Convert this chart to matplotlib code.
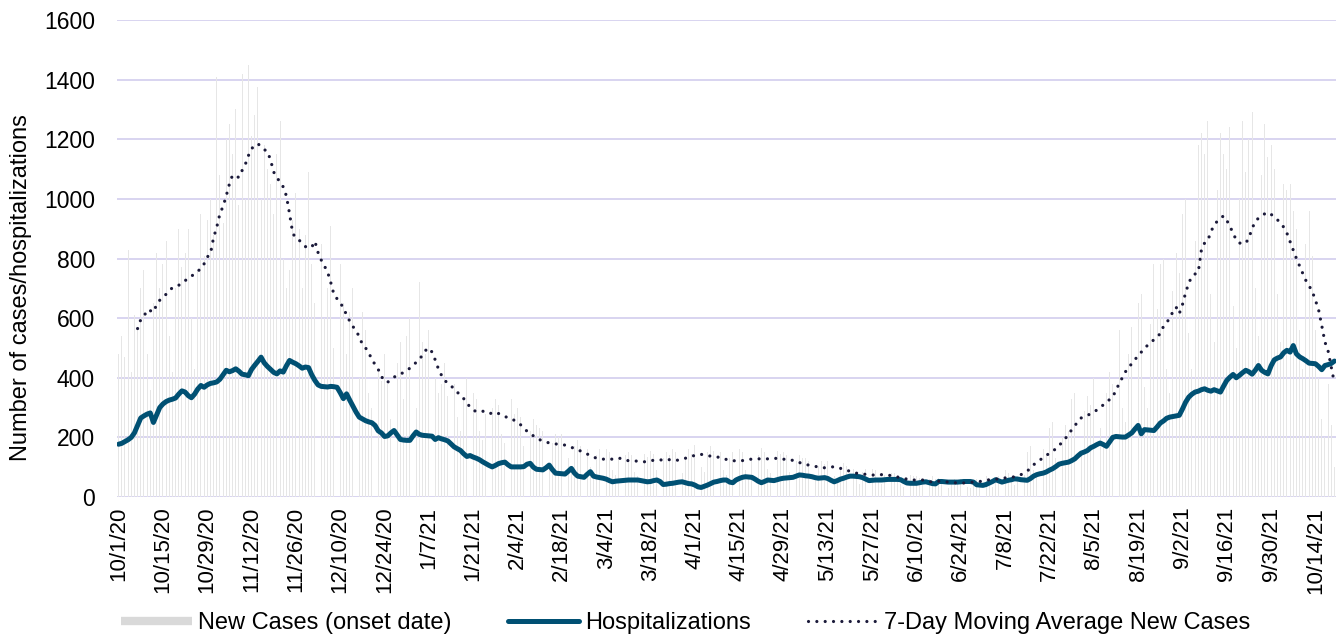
import numpy as np
import matplotlib.pyplot as plt
from matplotlib.lines import Line2D

plt.rcParams['font.family'] = ['Liberation Sans', 'DejaVu Sans']

# Daily values, 10/1/20 .. 10/20/21 (385 days)
new_cases = [
    480, 540, 470, 830, 420, 610, 560,
    700, 760, 480, 360, 650, 820, 700,
    780, 860, 540, 420, 700, 900, 770,
    820, 900, 600, 430, 760, 950, 810,
    930, 1000, 880, 1410, 1080, 920, 1200,
    1250, 1150, 1300, 980, 1420, 1000, 1450,
    1210, 1280, 1375, 1000, 1180, 1100, 1050,
    950, 1150, 1260, 800, 700, 760, 930,
    1020, 900, 700, 880, 1090, 780, 650,
    900, 850, 600, 700, 910, 500, 560,
    780, 650, 480, 620, 700, 460, 400,
    620, 560, 350, 300, 500, 420, 390,
    480, 380, 260, 610, 450, 520, 330,
    540, 600, 380, 300, 720, 520, 480,
    560, 520, 400, 350, 380, 450, 340,
    420, 380, 270, 220, 330, 400, 310,
    350, 330, 220, 190, 280, 340, 300,
    330, 310, 210, 180, 290, 330, 280,
    300, 270, 170, 130, 220, 260, 240,
    230, 220, 140, 110, 180, 210, 200,
    210, 200, 130, 100, 170, 190, 170,
    170, 160, 100, 80, 140, 160, 150,
    160, 150, 90, 75, 130, 150, 140,
    150, 140, 85, 70, 125, 145, 135,
    155, 145, 90, 75, 130, 150, 140,
    160, 150, 95, 80, 135, 160, 145,
    175, 165, 100, 85, 150, 170, 155,
    160, 150, 90, 75, 130, 150, 140,
    160, 150, 90, 75, 130, 150, 140,
    165, 150, 95, 80, 135, 155, 145,
    150, 140, 85, 70, 120, 140, 130,
    130, 120, 75, 60, 105, 120, 110,
    120, 115, 70, 55, 100, 115, 105,
    100, 95, 60, 45, 85, 95, 85,
    95, 90, 55, 45, 75, 90, 80,
    80, 75, 45, 35, 65, 75, 70,
    70, 65, 40, 30, 60, 70, 60,
    65, 60, 35, 30, 50, 60, 55,
    60, 60, 35, 30, 50, 60, 55,
    75, 70, 40, 35, 60, 70, 65,
    90, 80, 50, 40, 70, 85, 75,
    150, 170, 90, 70, 130, 160, 140,
    230, 250, 130, 100, 200, 240, 220,
    330, 350, 190, 150, 290, 340, 310,
    400, 430, 230, 180, 350, 420, 380,
    540, 560, 300, 250, 480, 570, 720,
    650, 680, 370, 300, 580, 780, 630,
    780, 800, 430, 350, 690, 820, 750,
    950, 1000, 550, 430, 860, 1180, 1220,
    1150, 1260, 680, 520, 1030, 1220, 1150,
    1100, 1240, 640, 500, 1000, 1260, 1090,
    1200, 1290, 700, 540, 1080, 1250, 1140,
    1180, 1100, 680, 520, 1050, 1030, 1050,
    960, 900, 560, 430, 850, 960, 810,
    560, 400, 260, 200, 380, 240, 100,
]

hospitalizations = [
    177, 180, 186, 192, 200, 215, 240, 265, 272, 278,
    282, 250, 275, 300, 312, 320, 325, 328, 332, 345,
    356, 352, 340, 333, 345, 362, 374, 368, 376, 381,
    383, 386, 395, 410, 425, 420, 424, 430, 422, 412,
    410, 407, 428, 442, 455, 469, 450, 438, 428, 418,
    413, 423, 419, 440, 458, 452, 447, 440, 432, 436,
    434, 410, 391, 376, 371, 370, 369, 371, 370, 368,
    350, 330, 346, 325, 305, 285, 268, 262, 256, 252,
    249, 240, 222, 215, 203, 205, 215, 223, 208, 193,
    191, 190, 190, 205, 218, 210, 207, 206, 205, 204,
    193, 199, 195, 192, 188, 178, 168, 162, 156, 145,
    136, 139, 134, 130, 125, 118, 112, 106, 101, 106,
    112, 115, 117, 108, 101, 101, 101, 101, 102, 110,
    113, 100, 93, 92, 91, 98, 107, 92, 80, 79,
    78, 77, 86, 96, 80, 70, 68, 66, 76, 85,
    70, 67, 65, 63, 60, 55, 51, 53, 54, 55,
    56, 57, 57, 57, 57, 55, 53, 51, 52, 55,
    57, 52, 42, 43, 45, 46, 48, 50, 51, 48,
    45, 44, 40, 34, 32, 36, 40, 45, 50, 52,
    55, 57, 57, 50, 48, 57, 62, 66, 68, 67,
    66, 60, 53, 48, 52, 57, 56, 55, 58, 61,
    63, 64, 65, 66, 70, 74, 73, 71, 70, 68,
    65, 63, 64, 65, 62, 56, 51, 55, 60, 63,
    67, 70, 70, 69, 68, 65, 60, 55, 56, 57,
    57, 57, 58, 59, 59, 59, 59, 58, 52, 47,
    46, 46, 46, 48, 50, 51, 48, 45, 44, 52,
    52, 51, 50, 50, 50, 50, 51, 52, 52, 52,
    50, 41, 40, 39, 42, 47, 52, 58, 54, 50,
    53, 56, 58, 61, 60, 58, 57, 56, 62, 70,
    75, 78, 80, 84, 90, 95, 102, 110, 113, 115,
    117, 122, 128, 138, 147, 151, 156, 165, 170, 176,
    181, 176, 170, 185, 200, 203, 202, 201, 201, 208,
    215, 228, 240, 212, 226, 225, 224, 223, 235, 248,
    255, 264, 268, 270, 272, 274, 295, 318, 335, 345,
    352, 355, 360, 363, 358, 355, 360, 356, 352, 372,
    391, 402, 411, 400, 408, 417, 425, 420, 412, 425,
    441, 425, 418, 413, 440, 460, 466, 470, 484, 492,
    486, 508, 480, 470, 464, 457, 449, 448, 447, 438,
    427, 441, 444, 448, 456,
]

# 7-day moving average (first 6 days empty)
moving_avg = [np.nan] * 6 + [
    565, 595, 605, 628,
    625, 620, 645, 660, 670, 680, 692, 702, 707, 710,
    720, 726, 732, 740, 750, 758, 765, 782, 805, 815,
    870, 905, 950, 975, 1010, 1050, 1080, 1076, 1072, 1095,
    1115, 1145, 1168, 1180, 1185, 1175, 1165, 1160, 1130, 1090,
    1070, 1058, 1040, 1010, 950, 885, 868, 862, 850, 840,
    835, 838, 858, 820, 795, 775, 755, 720, 680, 665,
    650, 636, 610, 590, 572, 558, 538, 512, 500, 485,
    460, 445, 428, 405, 388, 385, 395, 402, 408, 412,
    418, 425, 432, 441, 452, 462, 476, 492, 500, 486,
    460, 430, 408, 392, 380, 372, 364, 352, 338, 330,
    315, 302, 292, 286, 287, 288, 283, 279, 282, 285,
    280, 276, 270, 266, 263, 257, 251, 242, 234, 220,
    214, 205, 197, 192, 189, 185, 181, 179, 178, 177,
    176, 174, 170, 167, 162, 158, 154, 149, 144, 140,
    134, 130, 128, 127, 127, 127, 127, 129, 131, 127,
    123, 122, 121, 121, 120, 119, 118, 120, 122, 123,
    124, 124, 125, 127, 125, 123, 122, 125, 128, 130,
    133, 136, 140, 143, 143, 141, 139, 137, 136, 135,
    131, 128, 126, 123, 122, 121, 121, 122, 124, 126,
    127, 128, 128, 128, 128, 128, 128, 129, 130, 130,
    127, 125, 124, 123, 122, 116, 111, 109, 107, 106,
    103, 100, 99, 98, 98, 100, 102, 99, 96, 94,
    90, 86, 83, 80, 79, 77, 76, 75, 74, 73,
    74, 75, 75, 73, 72, 70, 67, 65, 62, 60,
    58, 57, 57, 57, 57, 55, 52, 50, 54, 53,
    52, 51, 50, 49, 48, 47, 47, 47, 48, 49,
    50, 51, 52, 54, 56, 58, 59, 60, 61, 63,
    64, 65, 66, 68, 71, 75, 80, 87, 97, 108,
    117, 124, 132, 140, 146, 153, 162, 172, 184, 196,
    210, 225, 238, 255, 265, 270, 274, 279, 285, 292,
    300, 309, 318, 327, 336, 358, 380, 400, 420, 435,
    447, 460, 476, 486, 495, 510, 520, 527, 537, 548,
    572, 585, 600, 622, 637, 615, 645, 685, 718, 740,
    748, 754, 830, 852, 860, 890, 912, 925, 935, 943,
    928, 908, 885, 862, 852, 850, 851, 870, 900, 925,
    935, 944, 950, 955, 948, 940, 930, 918, 905, 885,
    856, 828, 800, 775, 750, 726, 708, 690, 660, 628,
    575, 520, 490, 436, 382,
]

tick_labels = ['10/1/20', '10/15/20', '10/29/20', '11/12/20', '11/26/20',
               '12/10/20', '12/24/20', '1/7/21', '1/21/21', '2/4/21',
               '2/18/21', '3/4/21', '3/18/21', '4/1/21', '4/15/21',
               '4/29/21', '5/13/21', '5/27/21', '6/10/21', '6/24/21',
               '7/8/21', '7/22/21', '8/5/21', '8/19/21', '9/2/21',
               '9/16/21', '9/30/21', '10/14/21']

bar_color = '#d9d9d9'
hosp_color = '#005073'
ma_color = '#1b1a3a'
grid_color = '#d6d1ef'
dots = (0, (0.01, 2.6))

x = np.arange(len(new_cases))

fig = plt.figure(figsize=(13.44, 6.36), dpi=100)
ax = fig.add_axes([117/1344, 1 - 497/636, 1219/1344, 477/636])

# faint daily bars
ax.bar(x, new_cases, width=0.28, color='#e6e6e6', zorder=2)
ax.plot(np.arange(len(hospitalizations)), hospitalizations, color=hosp_color,
        lw=3.6, solid_joinstyle='round', solid_capstyle='round', zorder=3)
ax.plot(np.arange(len(moving_avg)), moving_avg, color=ma_color, lw=2.3,
        linestyle=dots, dash_capstyle='round', zorder=4)

ax.set_xlim(-0.5, len(new_cases) - 0.5)
ax.set_ylim(0, 1600)
ax.set_yticks(np.arange(0, 1601, 200))
ax.set_xticks(np.arange(0, 14 * len(tick_labels), 14))
ax.set_xticklabels(tick_labels, rotation=90, fontsize=16)
ax.tick_params(axis='y', labelsize=16.5, length=0, pad=16)
ax.tick_params(axis='x', length=0, pad=7)
ax.grid(axis='y', color=grid_color, lw=1.3, zorder=0)
ax.set_axisbelow(True)
for s in ax.spines.values():
    s.set_visible(False)

fig.text(21/1344, 1 - 288/636, 'Number of cases/hospitalizations',
         rotation=90, ha='center', va='center', fontsize=17)

handles = [
    Line2D([], [], color=bar_color, lw=6, solid_capstyle='butt'),
    Line2D([], [], color=hosp_color, lw=3.6, solid_capstyle='round'),
    Line2D([], [], color=ma_color, lw=2.3, linestyle=dots, dash_capstyle='round'),
]
labels = ['New Cases (onset date)', 'Hospitalizations',
          '7-Day Moving Average New Cases']
fig.legend(handles, labels, loc='center', bbox_to_anchor=(686/1344, 1 - 623/636),
           ncol=3, frameon=False, fontsize=17, handlelength=3.0,
           handletextpad=0.25, columnspacing=2.4)

fig.savefig('out.png', dpi=100)
